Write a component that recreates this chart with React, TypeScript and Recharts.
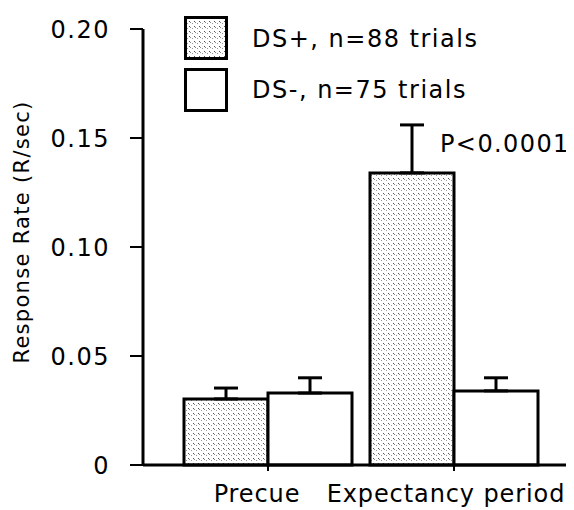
import React from "react";
import { BarChart, Bar, XAxis, YAxis, ErrorBar, LabelList } from "recharts";

const categories = ["Precue", "Expectancy period"];
const dsPlus = [0.0303, 0.134];
const dsPlusErr = [0.005, 0.022];
const dsMinus = [0.033, 0.034];
const dsMinusErr = [0.007, 0.006];
const sigLabels = ["", "P<0.0001"];
const yTicks = [0, 0.05, 0.1, 0.15, 0.2];
const seriesNames = ["DS+, n=88 trials", "DS-, n=75 trials"];
const yLabel = "Response Rate (R/sec)";

const data = categories.map((c, i) => ({
  name: c,
  plus: dsPlus[i],
  plusErr: [0, dsPlusErr[i]],
  minus: dsMinus[i],
  minusErr: [0, dsMinusErr[i]],
  sig: sigLabels[i],
}));

const FONT = "'DejaVu Sans', Verdana, sans-serif";
const tickDx = [-11, -8];

const XTick = (props: any) => {
  const { x, y, payload, index } = props;
  return (
    <text x={x + (tickDx[index] ?? 0)} y={y + 29} textAnchor="middle" fontFamily={FONT} fontSize={24} fill="#000" style={{ letterSpacing: 0.9 }}>
      {payload.value}
    </text>
  );
};

const YTick = (props: any) => {
  const { x, y, payload } = props;
  const v = payload.value === 0 ? "0" : Number(payload.value).toFixed(2);
  return (
    <text x={x} y={y + 9} textAnchor="end" fontFamily={FONT} fontSize={24} fill="#000" style={{ letterSpacing: 1.5 }}>
      {v}
    </text>
  );
};

const SigLabel = (props: any) => {
  const { x, y, width, value } = props;
  if (!value) return null;
  return (
    <text x={x + width - 14} y={y - 21} fontFamily={FONT} fontSize={24} fill="#000" style={{ letterSpacing: 1.4 }}>
      {value}
    </text>
  );
};

const Stipple = ({ id }: { id: string }) => (
  <pattern id={id} width="5" height="5" patternUnits="userSpaceOnUse">
    <rect width="5" height="5" fill="#fff" />
    <rect x="0" y="0" width="1" height="1" fill="#555" />
    <rect x="1" y="1" width="1" height="1" fill="#888" />
    <rect x="3" y="2" width="1" height="1" fill="#999" />
  </pattern>
);

const LegendOverlay = () => (
  <svg width={340} height={100} style={{ position: "absolute", left: 176, top: 8, display: "block" }}>
    <defs>
      <Stipple id="stippleLegend" />
    </defs>
    <rect x={1.5} y={1.5} width={41} height={41} fill="url(#stippleLegend)" stroke="#000" strokeWidth={3} />
    <text x={68} y={31} fontFamily={FONT} fontSize={24} fill="#000" style={{ letterSpacing: 1.5 }}>{seriesNames[0]}</text>
    <rect x={1.5} y={53.5} width={41} height={41} fill="#fff" stroke="#000" strokeWidth={3} />
    <text x={68} y={82} fontFamily={FONT} fontSize={24} fill="#000" style={{ letterSpacing: 1.5 }}>{seriesNames[1]}</text>
  </svg>
);

const YLabelContent = () => (
  <text
    x={0}
    y={0}
    transform={`translate(21, 224) rotate(-90)`}
    textAnchor="middle"
    fontFamily={FONT}
    fontSize={21}
    fill="#000"
    style={{ letterSpacing: 1.3 }}
  >
    {yLabel}
  </text>
);

export default function App() {
  return (
    <div style={{ position: "relative", width: 566, height: 502, background: "#fff" }}>
      <BarChart
        width={566}
        height={502}
        data={data}
        margin={{ top: 21, right: 2, left: 0, bottom: 0 }}
        barSize={84}
        barGap={0}
      >
        <defs>
          <Stipple id="stipple" />
        </defs>
        <XAxis
          dataKey="name"
          height={45}
          padding={{ left: 32, right: 25 }}
          axisLine={{ stroke: "#000", strokeWidth: 3 }}
          tickLine={{ stroke: "#000", strokeWidth: 2 }}
          tickSize={6}
          tick={<XTick />}
          interval={0}
        />
        <YAxis
          width={135}
          domain={[0, 0.2]}
          ticks={yTicks}
          axisLine={{ stroke: "#000", strokeWidth: 3 }}
          tickLine={{ stroke: "#000", strokeWidth: 2 }}
          tickSize={13}
          tickMargin={20}
          tick={<YTick />}
          label={<YLabelContent />}
        />
        <Bar dataKey="plus" fill="url(#stipple)" stroke="#000" strokeWidth={3} isAnimationActive={false}>
          <ErrorBar dataKey="plusErr" direction="y" stroke="#000" strokeWidth={3} width={12} />
          <LabelList dataKey="sig" content={<SigLabel />} />
        </Bar>
        <Bar dataKey="minus" fill="#fff" stroke="#000" strokeWidth={3} isAnimationActive={false}>
          <ErrorBar dataKey="minusErr" direction="y" stroke="#000" strokeWidth={3} width={12} />
        </Bar>
      </BarChart>
      <LegendOverlay />
    </div>
  );
}
